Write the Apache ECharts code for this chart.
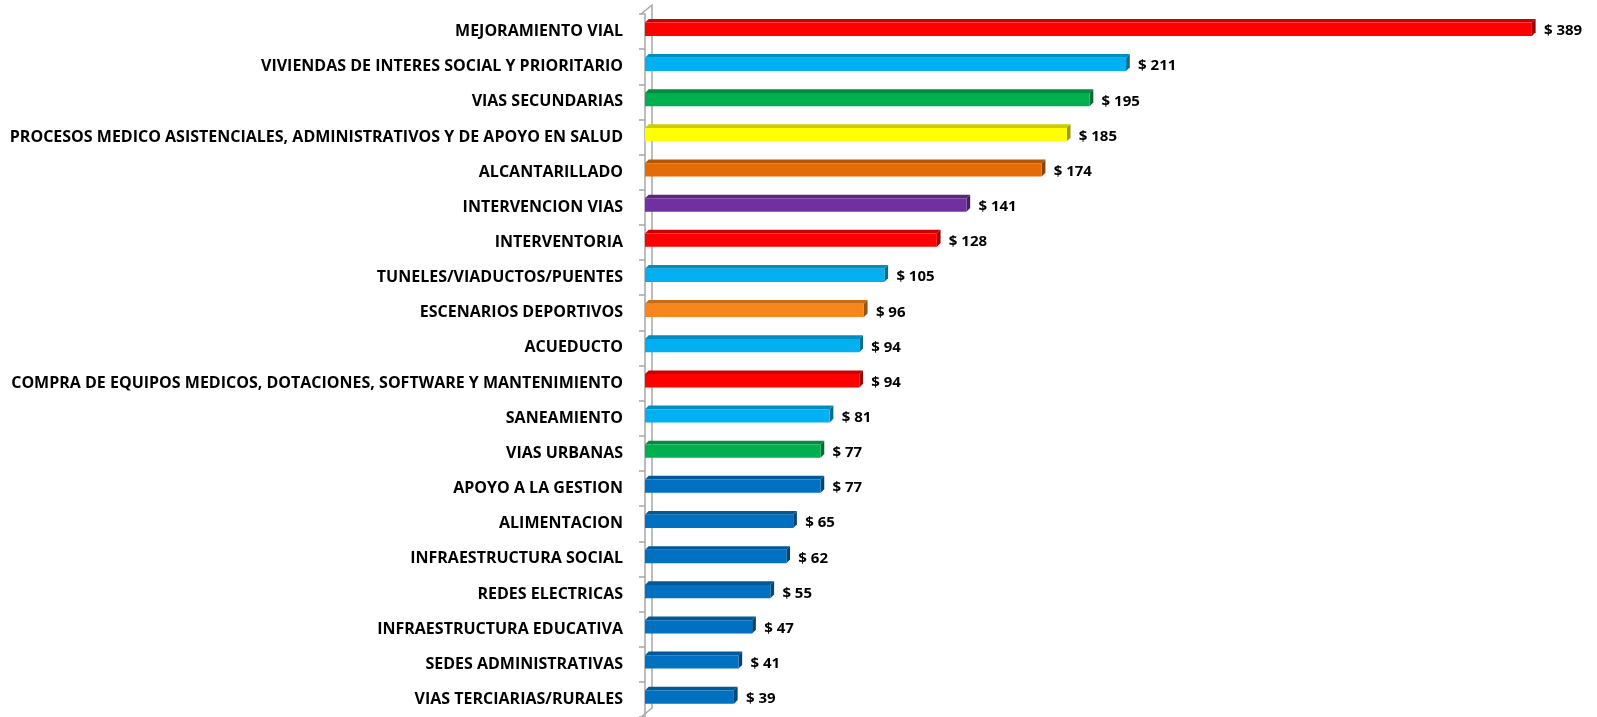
<!DOCTYPE html>
<html>
<head>
<meta charset="utf-8">
<script src="https://cdn.jsdelivr.net/npm/echarts@6/dist/echarts.min.js"></script>
<style>
  html, body { margin: 0; padding: 0; background: #fff; }
  #chart { width: 1597px; height: 717px; }
</style>
</head>
<body>
<div id="chart"></div>
<script>
const categories = [
  'MEJORAMIENTO VIAL',
  'VIVIENDAS DE INTERES SOCIAL Y PRIORITARIO',
  'VIAS SECUNDARIAS',
  'PROCESOS MEDICO ASISTENCIALES, ADMINISTRATIVOS Y DE APOYO EN SALUD',
  'ALCANTARILLADO',
  'INTERVENCION VIAS',
  'INTERVENTORIA',
  'TUNELES/VIADUCTOS/PUENTES',
  'ESCENARIOS DEPORTIVOS',
  'ACUEDUCTO',
  'COMPRA DE EQUIPOS MEDICOS, DOTACIONES, SOFTWARE Y MANTENIMIENTO',
  'SANEAMIENTO',
  'VIAS URBANAS',
  'APOYO A LA GESTION',
  'ALIMENTACION',
  'INFRAESTRUCTURA SOCIAL',
  'REDES ELECTRICAS',
  'INFRAESTRUCTURA EDUCATIVA',
  'SEDES ADMINISTRATIVAS',
  'VIAS TERCIARIAS/RURALES'
];
const values = [389, 211, 195, 185, 174, 141, 128, 105, 96, 94, 94, 81, 77, 77, 65, 62, 55, 47, 41, 39];
const barColors = [
  '#FF0000', '#00B0F0', '#00B050', '#FFFF00', '#E36C09',
  '#7030A0', '#FF0000', '#00B0F0', '#F7861C', '#00B0F0',
  '#FF0000', '#00B0F0', '#00B050', '#0070C0', '#0070C0',
  '#0070C0', '#0070C0', '#0070C0', '#0070C0', '#0070C0'
];

// darken a hex colour for the 3d faces
const shade = (hex, k) => {
  const n = parseInt(hex.slice(1), 16);
  const r = Math.round(((n >> 16) & 255) * k);
  const g = Math.round(((n >> 8) & 255) * k);
  const b = Math.round((n & 255) * k);
  return `rgb(${r},${g},${b})`;
};

const chart = echarts.init(document.getElementById('chart'));

const renderBar = (params, api) => {
  const val = api.value(0);
  const idx = api.value(1);
  const start = api.coord([0, idx]);
  const end = api.coord([val, idx]);
  const x0 = start[0];
  const x1 = end[0];
  const yc = start[1];
  const yTop = yc - 9;
  const yBot = yc + 4.3;
  const d = 3.7;
  const color = barColors[idx];
  return {
    type: 'group',
    children: [
      {
        type: 'polygon',
        shape: { points: [[x0, yTop], [x0 + d, yTop - d], [x1 + d, yTop - d], [x1, yTop]] },
        style: { fill: shade(color, 0.8) }
      },
      {
        type: 'polygon',
        shape: { points: [[x1, yTop], [x1 + d, yTop - d], [x1 + d, yBot - d], [x1, yBot]] },
        style: { fill: shade(color, 0.62) }
      },
      {
        type: 'rect',
        shape: { x: x0, y: yTop, width: x1 - x0, height: yBot - yTop },
        style: { fill: color }
      },
      {
        type: 'text',
        x: x1 + 12,
        y: yc - 0.5,
        style: {
          text: '$ ' + val,
          fill: '#000',
          font: 'bold 15px "Open Sans", sans-serif',
          verticalAlign: 'middle',
          align: 'left'
        }
      }
    ]
  };
};

chart.setOption({
  animation: false,
  grid: { left: 645, top: 14, width: 912, height: 706, containLabel: false },
  xAxis: {
    type: 'value',
    min: 0,
    max: 400,
    show: false
  },
  yAxis: {
    type: 'category',
    data: categories,
    inverse: true,
    offset: 4,
    axisLine: { show: true, lineStyle: { color: '#a6a6a6', width: 1.5 } },
    axisTick: { show: true, length: 6, lineStyle: { color: '#a6a6a6', width: 1.5 } },
    axisLabel: {
      margin: 18,
      color: '#000',
      fontFamily: 'Open Sans',
      fontWeight: 'bold',
      fontSize: 16,
      padding: [3, 0, 0, 0]
    },
    splitLine: { show: false }
  },
  series: [
    {
      type: 'custom',
      renderItem: renderBar,
      encode: { x: 0, y: 1 },
      data: values.map((v, i) => [v, i])
    }
  ],
  graphic: [
    {
      type: 'polyline',
      shape: { points: [[641, 14], [652, 5], [652, 708], [641, 717]] },
      style: { stroke: '#a6a6a6', lineWidth: 1.5, fill: null },
      silent: true
    }
  ]
});
</script>
</body>
</html>
